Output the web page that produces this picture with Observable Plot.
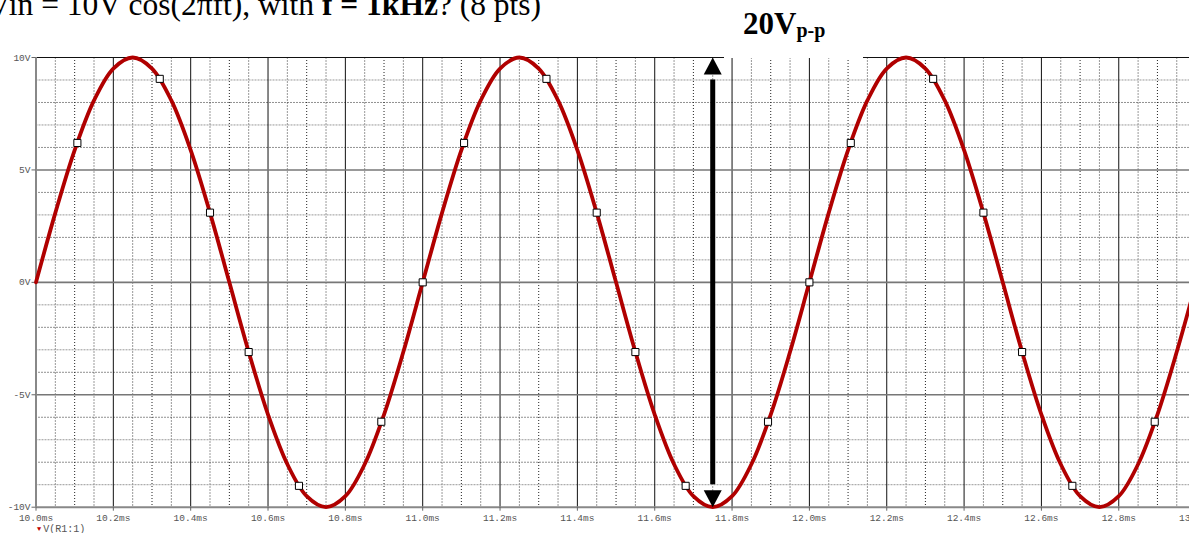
<!DOCTYPE html>
<html><head><meta charset="utf-8">
<script src="https://cdn.jsdelivr.net/npm/d3@7"></script>
<script src="https://cdn.jsdelivr.net/npm/@observablehq/plot@0.6"></script>
<style>
html,body{margin:0;padding:0;background:#fff;overflow:hidden;width:1189px;height:533px}
#wrap{position:relative;width:1189px;height:533px;overflow:hidden}
#chart{position:absolute;left:0;top:0;width:1240px;height:533px}
#chart svg{max-width:none !important;width:1240px !important;height:533px !important}
.title{position:absolute;left:-12px;top:-11.4px;font-family:"Liberation Serif","Times New Roman",serif;font-size:31.5px;white-space:nowrap;line-height:1;color:#000;z-index:2}
.pp{position:absolute;left:724px;top:0;width:139px;height:58px;background:#fff;z-index:2}
.pp span.main{position:absolute;left:19px;top:8px;font-family:"Liberation Serif","Times New Roman",serif;font-weight:bold;font-size:31px;line-height:1;white-space:nowrap}
.pp sub{font-size:20px;vertical-align:-3px}
.legend{position:absolute;left:37px;top:524px;font-family:"Liberation Mono","DejaVu Sans Mono",monospace;font-size:10px;color:#555;white-space:nowrap;z-index:2}
.legend .tri{color:#c00000;font-size:7px;margin-right:2px;vertical-align:1px}
</style>
</head><body>
<div id="wrap">
  <div class="title">Vin = 10V cos(2πft), with <b>f = 1kHz</b>? (8 pts)</div>
  <div class="pp"><span class="main">20V<sub>p-p</sub></span></div>
  <div class="legend"><span class="tri">▼</span>V(R1:1)</div>
  <div id="chart"></div>
</div>
<script>
// ---- data ----
const timeMs = [
  10.00,10.05,10.10,10.15,10.20,10.25,10.30,10.35,10.40,10.45,
  10.50,10.55,10.60,10.65,10.70,10.75,10.80,10.85,10.90,10.95,
  11.00,11.05,11.10,11.15,11.20,11.25,11.30,11.35,11.40,11.45,
  11.50,11.55,11.60,11.65,11.70,11.75,11.80,11.85,11.90,11.95,
  12.00,12.05,12.10,12.15,12.20,12.25,12.30,12.35,12.40,12.45,
  12.50,12.55,12.60,12.65,12.70,12.75,12.80,12.85,12.90,12.95,
  13.00
];
const voltage = [
  0, 3.09, 5.88, 8.09, 9.51, 10, 9.51, 8.09, 5.88, 3.09,
  0, -3.09, -5.88, -8.09, -9.51, -10, -9.51, -8.09, -5.88, -3.09,
  0, 3.09, 5.88, 8.09, 9.51, 10, 9.51, 8.09, 5.88, 3.09,
  0, -3.09, -5.88, -8.09, -9.51, -10, -9.51, -8.09, -5.88, -3.09,
  0, 3.09, 5.88, 8.09, 9.51, 10, 9.51, 8.09, 5.88, 3.09,
  0, -3.09, -5.88, -8.09, -9.51, -10, -9.51, -8.09, -5.88, -3.09,
  0
];
const markerT = [10.107,10.32,10.45,10.55,10.68,10.893,11.0,11.107,11.32,11.45,11.55,11.68,11.893,12.0,12.107,12.32,12.45,12.55,12.68,12.893];
const markerV = [6.2,9.05,3.1,-3.1,-9.05,-6.2,0,6.2,9.05,3.1,-3.1,-9.05,-6.2,0,6.2,9.05,3.1,-3.1,-9.05,-6.2];
const xTicks = [10.0,10.2,10.4,10.6,10.8,11.0,11.2,11.4,11.6,11.8,12.0,12.2,12.4,12.6,12.8,13.0];
const yTicks = [-10,-5,0,5,10];
const arrowX = [11.75];
const arrowY = [-10, 10];
const seriesName = "V(R1:1)";

// ---- derived tables ----
const curve = timeMs.map((t, i) => ({t, v: voltage[i]}));
const markers = markerT.map((t, i) => ({t, v: markerV[i]}));

// grid positions
const gridX = d3.range(0, 61).map(i => ({x: 10 + i * 0.05, k: i % 4}));
const minorXDark = gridX.filter(d => d.k === 2).map(d => d.x);
const minorXLight = gridX.filter(d => d.k % 2 === 1).map(d => d.x);
const minorYDark = [-8,-6,-4,-2,2,4,6,8];
const minorYLight = [-9,-7,-3,-1,1,3,7,9];
const majorY = [-5, 0, 5];

const headUp = {draw(ctx) { ctx.moveTo(0, 0); ctx.lineTo(9, 17); ctx.lineTo(-9, 17); ctx.closePath(); }};
const headDown = {draw(ctx) { ctx.moveTo(0, 0); ctx.lineTo(9, -17); ctx.lineTo(-9, -17); ctx.closePath(); }};

const chart = Plot.plot({
  width: 1240, height: 533,
  marginLeft: 35.5, marginRight: 44.4, marginTop: 57, marginBottom: 26.3,
  x: {domain: [10, 13], label: null},
  y: {domain: [-10, 10], label: null},
  style: {fontFamily: "'Liberation Mono','DejaVu Sans Mono',monospace", fontSize: "9.5px", color: "#555", background: "#fff", overflow: "visible"},
  marks: [
    Plot.ruleX(minorXLight, {stroke: "#999", strokeDasharray: "2,1"}),
    Plot.ruleY(minorYLight, {stroke: "#999", strokeDasharray: "2,1"}),
    Plot.ruleX(minorXDark, {stroke: "#222", strokeDasharray: "1,2"}),
    Plot.ruleY(minorYDark, {stroke: "#222", strokeDasharray: "1,2"}),
    Plot.ruleX(xTicks.slice(1), {stroke: "#111", strokeWidth: 1}),
    Plot.ruleY(majorY, {stroke: "#777", strokeWidth: 1.6}),
    Plot.ruleY([10], {stroke: "#111", strokeWidth: 1}),
    Plot.ruleY([-10], {stroke: "#888", strokeWidth: 2}),
    Plot.ruleX([10], {stroke: "#888", strokeWidth: 2}),
    Plot.axisY({ticks: yTicks, tickFormat: d => d + "V", tickSize: 4, tickPadding: 1.5, stroke: "#666", label: null}),
    Plot.axisX({ticks: xTicks, tickFormat: d => d.toFixed(1) + "ms", tickSize: 4, tickPadding: 3, stroke: "#666", label: null}),
    Plot.line(curve, {x: "t", y: "v", curve: "catmull-rom", stroke: "#b00000", strokeWidth: 3.8}),
    Plot.dot(markers, {x: "t", y: "v", symbol: "square", r: 4, fill: "white", stroke: "black", strokeWidth: 1}),
    Plot.ruleX(arrowX, {y1: -9, y2: 9, stroke: "black", strokeWidth: 5}),
    Plot.dot(arrowX, {x: d => d, y: arrowY[1], symbol: headUp, fill: "black", stroke: "none"}),
    Plot.dot(arrowX, {x: d => d, y: arrowY[0], symbol: headDown, fill: "black", stroke: "none"})
  ]
});
chart.style.maxWidth = "none";
document.getElementById("chart").appendChild(chart);
</script>
</body></html>
